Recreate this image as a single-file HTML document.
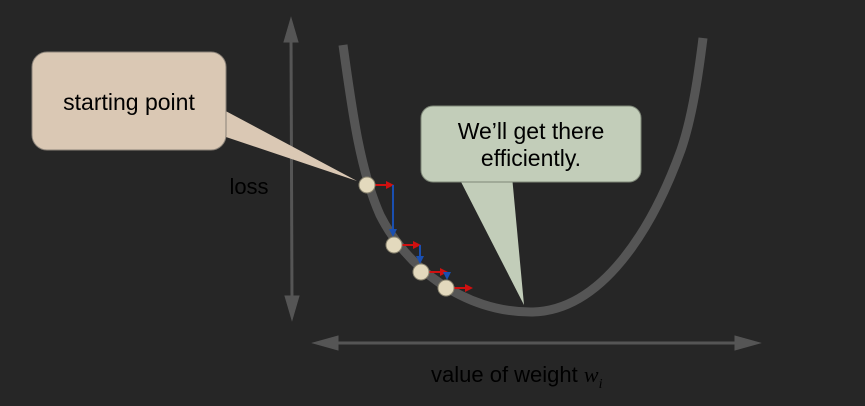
<!DOCTYPE html>
<html><head><meta charset="utf-8"><style>
html,body{margin:0;padding:0;background:#262626}
svg{display:block}
text{font-family:"Liberation Sans",sans-serif}
</style></head><body>
<svg width="865" height="406" viewBox="0 0 865 406">
<rect width="865" height="406" fill="#262626"/>
<g stroke="#555" fill="#555">
<line x1="291" y1="34" x2="292" y2="305" stroke-width="3"/>
<polygon points="291,18 284,42 298,42"/>
<polygon points="292,320 285,296 299,296"/>
</g>
<g stroke="#555" fill="#555">
<line x1="330" y1="343" x2="745" y2="343" stroke-width="3"/>
<polygon points="313,343 338,336 338,350"/>
<polygon points="760,343 735,336 735,350"/>
</g>
<text x="249" y="194" font-size="22" fill="#000" text-anchor="middle">loss</text>
<text x="431" y="382" font-size="22" fill="#000">value of weight <tspan font-family="Liberation Serif" font-style="italic">w</tspan><tspan font-family="Liberation Serif" font-style="italic" font-size="14" dy="6">i</tspan></text>
<path d="M343,45 C352,110 360,170 380,215 C405,265 462,313 533,312 C602,310 652,230 681,150 C693,115 699,70 703,38" fill="none" stroke="#555" stroke-width="9"/>
<g id="steps"></g>
<g>
<polygon points="220,108 220,135 357,181" fill="#dac8b4"/>
<rect x="32" y="52" width="194" height="98" rx="15" fill="#dac8b4" stroke="#8a8278" stroke-width="1"/>
<text x="129" y="110" font-size="23" fill="#000" text-anchor="middle">starting point</text>
</g>
<g>
<polygon points="458,176 512,176 524,305" fill="#c2cdb9"/>
<rect x="421" y="106" width="220" height="76" rx="12" fill="#c2cdb9" stroke="#7d8677" stroke-width="1"/>
<text x="531" y="139" font-size="23" fill="#000" text-anchor="middle">We’ll get there</text>
<text x="531" y="166" font-size="23" fill="#000" text-anchor="middle">efficiently.</text>
</g>
</svg>
<script>
const stepX = [367, 394, 421, 446];
const stepY = [185, 245, 272, 288];
const ns = "http://www.w3.org/2000/svg";
const g = document.getElementById('steps');
function mk(tag, attrs){const e=document.createElementNS(ns,tag);for(const k in attrs)e.setAttribute(k,attrs[k]);g.appendChild(e);return e;}
for(let i=0;i<stepX.length;i++){
  const x=stepX[i], y=stepY[i];
  const hx = x+27;
  const r = mk('line',{x1:x+8,y1:y,x2:hx-6,y2:y,stroke:'#d01010','stroke-width':2});
  
  
  const rh = mk('polygon',{points:`${hx},${y} ${hx-8},${y-4} ${hx-8},${y+4}`,fill:'#d01010'});
  
  
  if(i<stepX.length-1){
    const ny = stepY[i+1]-8;
    const vx = hx-1;
    const v = mk('line',{x1:vx,y1:y,x2:vx,y2:ny-5,stroke:'#1a4fb0','stroke-width':2});
    
    
    const vh = mk('polygon',{points:`${vx},${ny} ${vx-4},${ny-8} ${vx+4},${ny-8}`,fill:'#1a4fb0'});
    
    
  }
}
for(let i=0;i<stepX.length;i++){
  const c = mk('circle',{cx:stepX[i],cy:stepY[i],r:8,fill:'#e3d9bd',stroke:'#8a8470','stroke-width':1});
  
  
}
</script>
</body></html>
